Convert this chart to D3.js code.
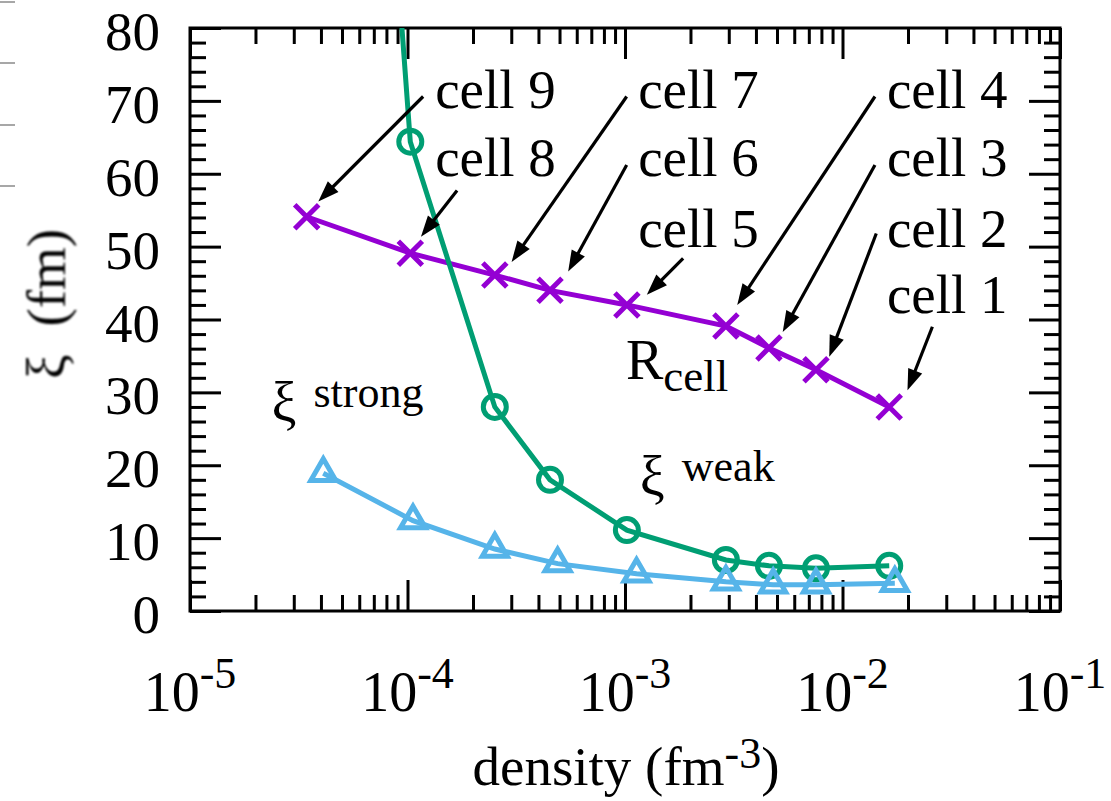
<!DOCTYPE html>
<html>
<head>
<meta charset="utf-8">
<script src="https://cdn.jsdelivr.net/npm/d3@7"></script>
<style>
    body { margin: 0; background: #fff; }
    svg text { fill: #000; }
    .tick line { stroke: #000; stroke-width: 3px; }
</style>
</head>
<body>
<div id="chart"></div>
<script>

// * * * * * data * * * * *

// R_cell for the nine Wigner-Seitz cells (cell 9 ... cell 1)
const cellNames = ["cell 9", "cell 8", "cell 7", "cell 6", "cell 5", "cell 4", "cell 3", "cell 2", "cell 1"];
const cellDensity = [3.44e-5, 1.03e-4, 2.52e-4, 4.52e-4, 1.02e-3, 2.91e-3, 4.59e-3, 7.55e-3, 1.64e-2];
const rCell = [54.1, 49.1, 46.1, 44.0, 42.0, 39.1, 36.1, 33.1, 28.0];

// xi weak (circles), same densities as the cells
const xiWeak = [258, 64.4, 28.0, 18.0, 11.1, 7.0, 6.2, 5.85, 6.2];

// xi strong (triangles)
const strongDensity = [4.1e-5, 1.06e-4, 2.52e-4, 4.9e-4, 1.13e-3, 2.91e-3, 4.8e-3, 7.55e-3, 1.74e-2];
const xiStrong = [18.9, 12.4, 8.5, 6.5, 5.1, 4.0, 3.6, 3.6, 3.8];

// label / arrow annotations, in data units (like gnuplot "set label at", "set arrow from ... to")
const labelDensity = [1.34e-4, 1.34e-4, 1.15e-3, 1.15e-3, 1.15e-3, 1.6e-2, 1.6e-2, 1.6e-2, 1.6e-2];
const labelXi = [69.0, 59.7, 69.0, 59.7, 50.0, 69.0, 59.7, 50.0, 40.85];
const arrowFromDensity = [1.18e-4, 1.69e-4, 1.018e-3, 1.018e-3, 1.85e-3, 1.41e-2, 1.41e-2, 1.43e-2, 2.59e-2];
const arrowFromXi = [70.6, 57.7, 70.6, 61.2, 48.4, 70.6, 61.2, 51.8, 39.0];
const arrowToDensity = [3.89e-5, 1.153e-4, 3.01e-4, 5.48e-4, 1.26e-3, 3.28e-3, 5.31e-3, 8.69e-3, 1.99e-2];
const arrowToXi = [56.2, 51.35, 47.9, 46.6, 43.4, 42.0, 38.3, 34.9, 30.3];

// axes
const xDomain = [1e-5, 1e-1];
const yDomain = [0, 80];
const xMajorTicks = [1e-5, 1e-4, 1e-3, 1e-2, 1e-1];
const xExponents = ["-5", "-4", "-3", "-2", "-1"];
const yMajorTicks = [0, 10, 20, 30, 40, 50, 60, 70, 80];

// * * * * * drawing * * * * *

const FONT = "'Liberation Serif', 'DejaVu Serif', 'Noto Serif', 'Times New Roman', Times, serif";

const W = 1111, H = 801;
const margin = {top: 28, right: 51, bottom: 190, left: 190};
const width = W - margin.left - margin.right;
const height = H - margin.top - margin.bottom;

const svg = d3.select("#chart").append("svg")
    .attr("width", W)
    .attr("height", H)
    .attr("font-family", FONT)
    .style("font-family", FONT);

// little grey marks on the left edge (left over from the page the figure was cut from)
svg.append("g")
    .selectAll("line")
    .data([2, 63, 125, 186])
    .enter().append("line")
    .attr("x1", 0).attr("x2", 15)
    .attr("y1", d => d).attr("y2", d => d)
    .attr("stroke", "#8a8a8a")
    .attr("stroke-width", 1.5);

const defs = svg.append("defs");
defs.append("clipPath").attr("id", "plotClip")
    .append("rect").attr("width", width).attr("height", height);
defs.append("filter").attr("id", "soft")
    .append("feGaussianBlur").attr("stdDeviation", 0.9);

const g = svg.append("g")
    .attr("transform", `translate(${margin.left},${margin.top})`);

const x = d3.scaleLog().domain(xDomain).range([0, width]);
const y = d3.scaleLinear().domain(yDomain).range([height, 0]);

// minor ticks
let xMinor = [];
xMajorTicks.slice(0, -1).forEach(d => {
    for (let k = 2; k <= 9; k++) xMinor.push(d * k);
});
let yMinor = [];
for (let v = 0; v <= 80; v += 2) if (v % 10 !== 0) yMinor.push(v);

const MAJ = 31, MIN = 16;

function tickAxis(axisFn, scale, values, size, translate) {
    let a = g.append("g")
        .attr("class", "axis")
        .attr("transform", translate)
        .call(axisFn(scale).tickValues(values).tickSizeInner(-size).tickSizeOuter(0).tickFormat(""));
    a.select(".domain").remove();
    return a;
}

// ticks on all four sides, pointing inwards
tickAxis(d3.axisBottom, x, xMajorTicks, MAJ, `translate(0,${height})`);
tickAxis(d3.axisBottom, x, xMinor, MIN, `translate(0,${height})`);
tickAxis(d3.axisTop, x, xMajorTicks, MAJ, "translate(0,0)");
tickAxis(d3.axisTop, x, xMinor, MIN, "translate(0,0)");
tickAxis(d3.axisLeft, y, yMajorTicks, MAJ, "translate(0,0)");
tickAxis(d3.axisLeft, y, yMinor, MIN, "translate(0,0)");
tickAxis(d3.axisRight, y, yMajorTicks, MAJ, `translate(${width},0)`);
tickAxis(d3.axisRight, y, yMinor, MIN, `translate(${width},0)`);

// frame
g.append("rect")
    .attr("width", width).attr("height", height)
    .attr("fill", "none")
    .attr("stroke", "#000")
    .attr("stroke-width", 3);

// y tick labels
g.append("g")
    .selectAll("text")
    .data(yMajorTicks)
    .enter().append("text")
    .attr("x", -30)
    .attr("y", d => y(d) + 22)
    .attr("text-anchor", "end")
    .style("font-size", "55px")
    .text(d => d);

// x tick labels 10^n
let xl = g.append("g")
    .selectAll("text")
    .data(xMajorTicks)
    .enter().append("text")
    .attr("x", d => x(d))
    .attr("y", height + 100)
    .attr("text-anchor", "middle")
    .style("font-size", "56px");
xl.append("tspan").text("10");
xl.append("tspan")
    .attr("dy", -23)
    .style("font-size", "44px")
    .text((d, i) => xExponents[i]);

// x axis title
let xt = g.append("text")
    .attr("x", width / 2 + 1)
    .attr("y", height + 174)
    .attr("text-anchor", "middle")
    .style("font-size", "55px");
xt.append("tspan").text("density (fm");
xt.append("tspan").attr("dy", -17).style("font-size", "44px").text("-3");
xt.append("tspan").attr("dy", 17).text(")");

// y axis title (slightly soft in the original)
let yt = svg.append("text")
    .attr("transform", "translate(65,304) rotate(-90)")
    .attr("text-anchor", "middle")
    .attr("filter", "url(#soft)")
    .style("font-size", "55px");
yt.append("tspan").text("ξ");
yt.append("tspan").attr("dx", 28).text("(fm)");

// * * * * * series * * * * *
const plot = g.append("g").attr("clip-path", "url(#plotClip)");

const line = d3.line().x(d => x(d[0])).y(d => y(d[1]));

const purple = "#9400d3", green = "#009e73", blue = "#56b4e9";
const LW = 5;

const rData = cellDensity.map((d, i) => [d, rCell[i]]);
const weakData = cellDensity.map((d, i) => [d, xiWeak[i]]);
const strongData = strongDensity.map((d, i) => [d, xiStrong[i]]);

// R_cell
plot.append("path")
    .datum(rData)
    .attr("d", line)
    .attr("fill", "none").attr("stroke", purple).attr("stroke-width", LW);
plot.selectAll(".xmark")
    .data(rData)
    .enter().append("path")
    .attr("class", "xmark")
    .attr("transform", d => `translate(${x(d[0])},${y(d[1])})`)
    .attr("d", "M-12,-12L12,12M-12,12L12,-12")
    .attr("stroke", purple).attr("stroke-width", LW).attr("fill", "none");

// xi weak
plot.append("path")
    .datum(weakData)
    .attr("d", line)
    .attr("fill", "none").attr("stroke", green).attr("stroke-width", LW);
plot.selectAll(".circ")
    .data(weakData)
    .enter().append("circle")
    .attr("class", "circ")
    .attr("cx", d => x(d[0]))
    .attr("cy", d => y(d[1]))
    .attr("r", 11.5)
    .attr("fill", "none").attr("stroke", green).attr("stroke-width", LW);

// xi strong
plot.append("path")
    .datum(strongData)
    .attr("d", line)
    .attr("fill", "none").attr("stroke", blue).attr("stroke-width", LW);
const s = 25, hTri = s * Math.sqrt(3) / 2;
plot.selectAll(".tri")
    .data(strongData)
    .enter().append("path")
    .attr("class", "tri")
    .attr("transform", d => `translate(${x(d[0])},${y(d[1])})`)
    .attr("d", `M0,${-2 * hTri / 3}L${s / 2},${hTri / 3}L${-s / 2},${hTri / 3}Z`)
    .attr("fill", "none").attr("stroke", blue).attr("stroke-width", LW)
    .attr("stroke-linejoin", "miter");

// * * * * * annotations * * * * *
const ann = g.append("g");

cellNames.forEach((name, i) => {
    ann.append("text")
        .attr("x", x(labelDensity[i]))
        .attr("y", y(labelXi[i]))
        .style("font-size", "55px")
        .text(name);

    let x1 = x(arrowFromDensity[i]), y1 = y(arrowFromXi[i]);
    let x2 = x(arrowToDensity[i]), y2 = y(arrowToXi[i]);
    let len = Math.hypot(x2 - x1, y2 - y1);
    let ux = (x2 - x1) / len, uy = (y2 - y1) / len;
    let headL = 21, headW = 7.5;
    let bx = x2 - ux * headL, by = y2 - uy * headL;
    ann.append("line")
        .attr("x1", x1).attr("y1", y1)
        .attr("x2", bx + ux * 2).attr("y2", by + uy * 2)
        .attr("stroke", "#000").attr("stroke-width", 3.2);
    ann.append("path")
        .attr("d", `M${x2},${y2}L${bx - uy * headW},${by + ux * headW}L${bx + uy * headW},${by - ux * headW}Z`)
        .attr("fill", "#000");
});

// series names
let rl = ann.append("text")
    .attr("x", x(1.01e-3))
    .attr("y", y(31.9))
    .style("font-size", "56px");
rl.append("tspan").text("R");
rl.append("tspan").attr("dy", 12).style("font-size", "45px").text("cell");

function xiLabel(dens, val, word) {
    let t = ann.append("text")
        .attr("x", x(dens))
        .attr("y", y(val))
        .style("font-size", "56px");
    t.append("tspan").text("ξ");
    t.append("tspan").attr("dx", 17).attr("dy", -14).style("font-size", "44px").text(word);
}
xiLabel(2.37e-5, 26.1, "strong");
xiLabel(1.17e-3, 15.9, "weak");

</script>
</body>
</html>
